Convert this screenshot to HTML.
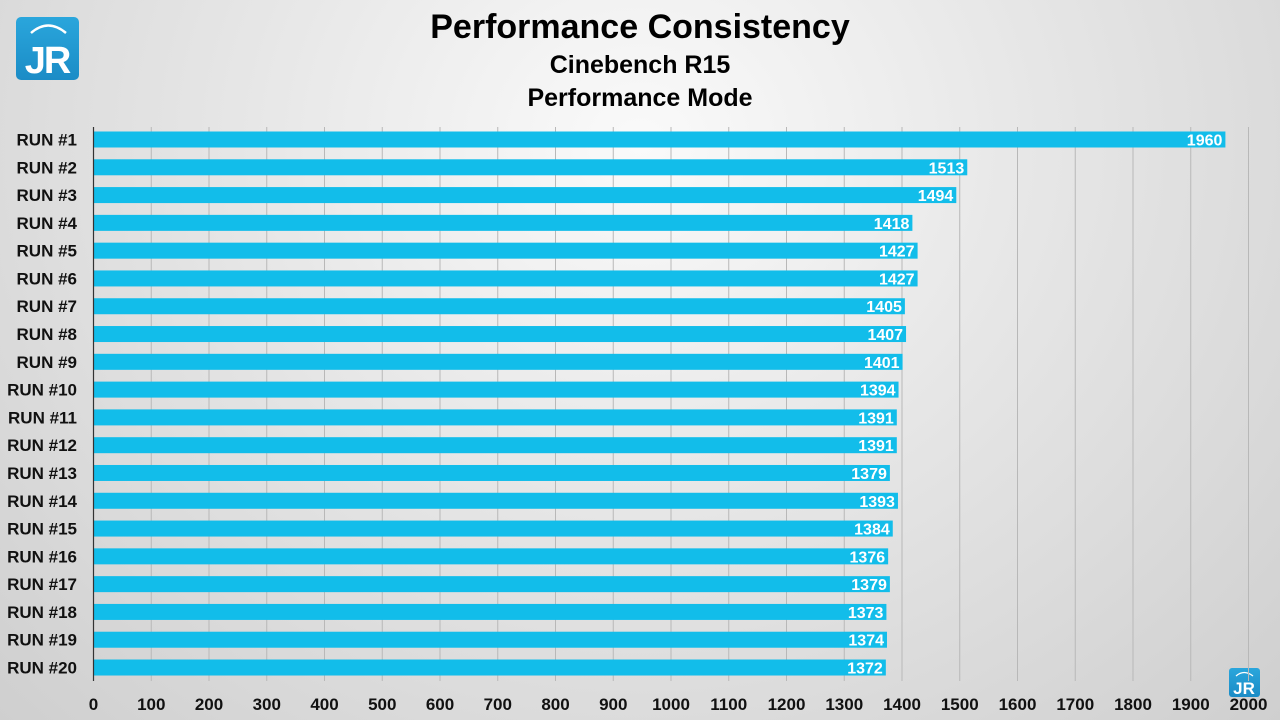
<!DOCTYPE html>
<html><head><meta charset="utf-8"><style>
html,body{margin:0;padding:0;overflow:hidden;width:1280px;height:720px;}
body{background:radial-gradient(ellipse at 50% 20%,#fafafa 0%,#e6e6e6 45%,#cfcfcf 100%);font-family:"Liberation Sans",sans-serif;}
svg{display:block;}
</style></head><body>
<svg width="1280" height="720" xmlns="http://www.w3.org/2000/svg" font-family="Liberation Sans, sans-serif">
<defs><linearGradient id="lg" x1="0" y1="0" x2="0" y2="1"><stop offset="0" stop-color="#2aa6dc"/><stop offset="1" stop-color="#1b8cc6"/></linearGradient></defs>
<rect x="16" y="17" width="63" height="63" rx="5" fill="url(#lg)"/>
<path d="M31 33 Q48 18 66 33" stroke="#fff" stroke-width="2.5" fill="none"/>
<text x="47" y="73" text-anchor="middle" font-size="38" font-weight="bold" fill="#fff" letter-spacing="-2">JR</text>
<rect x="1229" y="668" width="31" height="29" rx="3" fill="url(#lg)"/>
<path d="M1236 676 Q1244 669 1253 676" stroke="#fff" stroke-width="1.3" fill="none"/>
<text x="1244" y="694" text-anchor="middle" font-size="17" font-weight="bold" fill="#fff">JR</text>
<text x="640" y="38" text-anchor="middle" font-size="34" font-weight="bold" fill="#000">Performance Consistency</text>
<text x="640" y="73" text-anchor="middle" font-size="25" font-weight="bold" fill="#000">Cinebench R15</text>
<text x="640" y="106" text-anchor="middle" font-size="25" font-weight="bold" fill="#000">Performance Mode</text>
<g id="grid" stroke="#b8b8b8" stroke-width="1"></g>
<g id="bars"></g>
<line x1="93.5" y1="127" x2="93.5" y2="681" stroke="#333" stroke-width="1.2"/>
<g id="labels" font-weight="bold" fill="#111"></g>
</svg>
<script>
var ns="http://www.w3.org/2000/svg";
var v=[1960,1513,1494,1418,1427,1427,1405,1407,1401,1394,1391,1391,1379,1393,1384,1376,1379,1373,1374,1372];
var x0=93.5,s=0.5775;
function el(t,a,p,txt){var e=document.createElementNS(ns,t);for(var k in a)e.setAttribute(k,a[k]);if(txt!=null)e.textContent=txt;document.getElementById(p).appendChild(e);}
for(var i=1;i<=20;i++){var x=x0+i*100*s;el('line',{x1:x,y1:127,x2:x,y2:681},'grid');}
for(var i=0;i<=20;i++){el('text',{x:x0+i*100*s,y:710,'text-anchor':'middle','font-size':'17'},'labels',String(i*100));}
for(var i=0;i<20;i++){var cy=139.5+i*27.79;var w=v[i]*s;
el('rect',{x:x0,y:cy-8,width:w,height:16,fill:'#12bdea'},'bars');
el('text',{x:x0+w-3,y:cy+6,'text-anchor':'end','font-size':'16','font-weight':'bold',fill:'#fff'},'bars',String(v[i]));
el('text',{x:77,y:cy+6,'text-anchor':'end','font-size':'17'},'labels','RUN #'+(i+1));}
</script>
</body></html>
